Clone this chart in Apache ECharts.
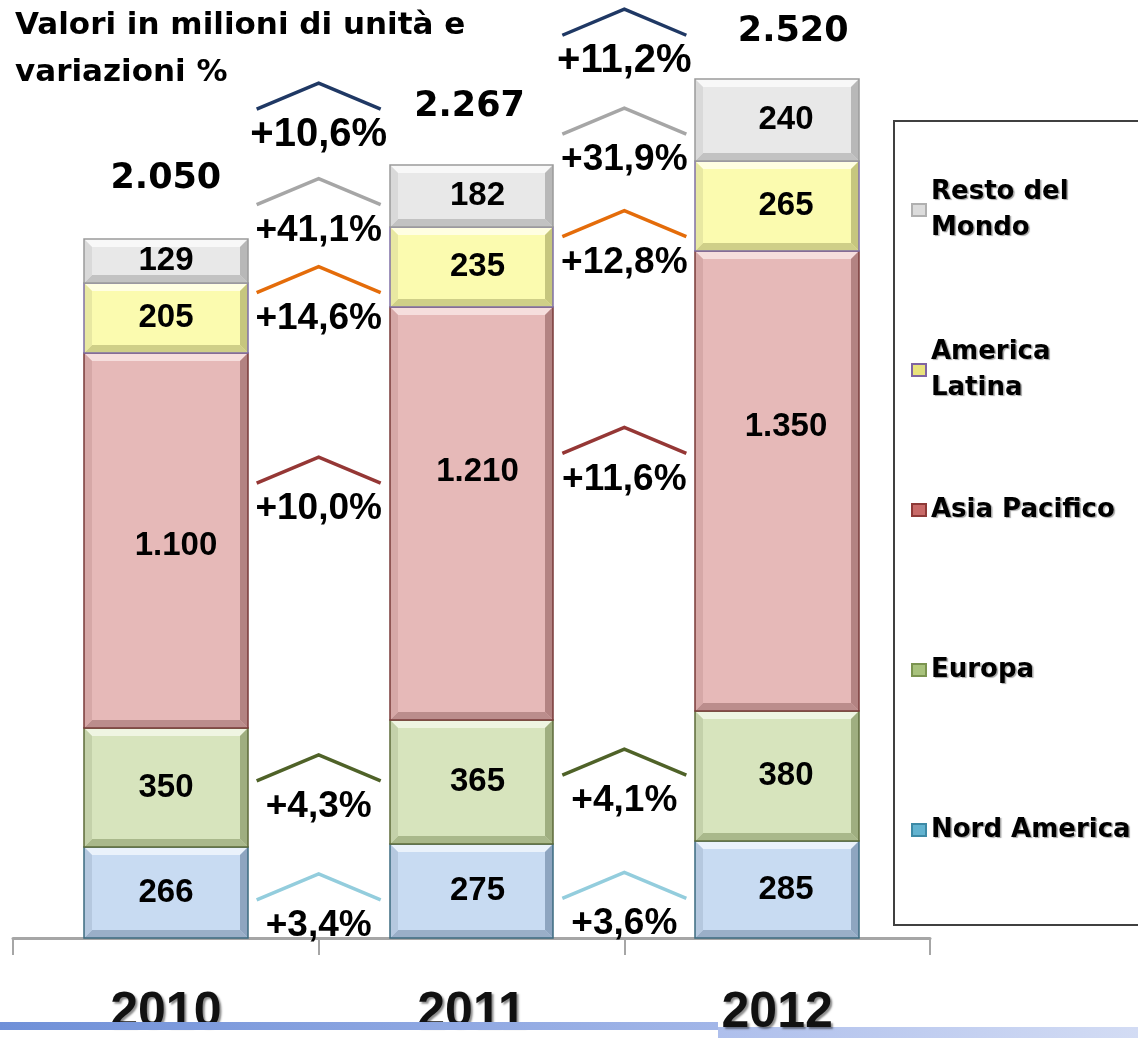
<!DOCTYPE html>
<html>
<head>
<meta charset="utf-8">
<title>Valori in milioni di unità e variazioni %</title>
<script src="https://cdn.jsdelivr.net/npm/echarts@6/dist/echarts.min.js"></script>
<style>
html, body { margin: 0; padding: 0; background: #fff; }
#chart { width: 1138px; height: 1038px; }
</style>
</head>
<body>
<div id="chart"></div>
<script>
/* anni */
var years = ['2010', '2011', '2012'];

/* valori in milioni di unità, per area (dal basso verso l'alto) */
var nordAmerica = [266, 275, 285];
var europa = [350, 365, 380];
var asiaPacifico = [1100, 1210, 1350];
var americaLatina = [205, 235, 265];
var restoMondo = [129, 182, 240];

/* variazioni % 2010->2011 e 2011->2012 */
var varNordAmerica = ['+3,4%', '+3,6%'];
var varEuropa = ['+4,3%', '+4,1%'];
var varAsiaPacifico = ['+10,0%', '+11,6%'];
var varAmericaLatina = ['+14,6%', '+12,8%'];
var varRestoMondo = ['+41,1%', '+31,9%'];
var varTotale = ['+10,6%', '+11,2%'];

/* stili */
var BAR_RATIO = 0.536;
var labelFont = 'bold 33px "Liberation Sans", Arial, sans-serif';
var growthFont = 'bold 37px "Liberation Sans", Arial, sans-serif';
var growthTotFont = 'bold 40px "Liberation Sans", Arial, sans-serif';
var totalFont = 'bold 35px "DejaVu Sans", sans-serif';
var labelDx = [0, 6, 9];
var totDx = [0, -2, 16];
var totDy = [-60, -58, -47];

var areas = [
    { name: 'Nord America', values: nordAmerica, growth: varNordAmerica, chevron: '#93cddd', nudge: 8,
      legend: { color: '#62b3d0', borderColor: '#3d8aa6' },
      colors: { face: '#c8dbf2', top: '#eaf2fb', left: '#b5c8df', right: '#8ea5c0', bottom: '#9aafc8', line: '#3d6b80' } },
    { name: 'Europa', values: europa, growth: varEuropa, chevron: '#4f6228', nudge: -4,
      legend: { color: '#a8c27c', borderColor: '#7b9450' },
      colors: { face: '#d7e4bd', top: '#eff5e2', left: '#c4d1aa', right: '#9fae80', bottom: '#a9b88b', line: '#5d6b3a' } },
    { name: 'Asia Pacifico', values: asiaPacifico, growth: varAsiaPacifico, chevron: '#953735', nudge: -44,
      labelShift: [[10, 5], [0, -42], [0, -54]],
      legend: { color: '#c86a68', borderColor: '#8e3a38' },
      colors: { face: '#e6b9b8', top: '#f6dedd', left: '#d6a8a7', right: '#b38382', bottom: '#bb8d8c', line: '#7a3b3a' } },
    { name: 'America\nLatina', values: americaLatina, growth: varAmericaLatina, chevron: '#e46c0a', nudge: 0,
      legend: { color: '#e9e27c', borderColor: '#8064a2' },
      colors: { face: '#fbfbaf', top: '#fffee2', left: '#e8e8a2', right: '#c6c67e', bottom: '#cfcf88', line: '#8070a6' } },
    { name: 'Resto del\nMondo', values: restoMondo, growth: varRestoMondo, chevron: '#a6a6a6', nudge: -24,
      legend: { color: '#dcdcdc', borderColor: '#b0b0b0' },
      colors: { face: '#e8e8e8', top: '#f8f8f8', left: '#d9d9d9', right: '#b8b8b8', bottom: '#c2c2c2', line: '#9a9a9a' } }
];

/* basi cumulative e totali */
var bases = years.map(function () { return 0; });
areas.forEach(function (a) {
    a.base = bases.slice();
    a.values.forEach(function (v, i) { bases[i] += v; });
});
var totals = bases.slice();

function fmt(v) {
    if (v < 1000) return String(v);
    var r = String(v % 1000);
    while (r.length < 3) r = '0' + r;
    return Math.floor(v / 1000) + '.' + r;
}

/* blocco con effetto smussato */
function blockRenderer(area) {
    return function (params, api) {
        var i = api.value(0);
        var lo = api.coord([i, api.value(1)]);
        var hi = api.coord([i, api.value(2)]);
        var w = api.size([1, 0])[0] * BAR_RATIO;
        var x0 = Math.round(lo[0] - w / 2), x1 = Math.round(lo[0] + w / 2);
        var y0 = Math.round(hi[1]), y1 = Math.round(lo[1]);
        var b = 8, c = area.colors;
        var sh = area.labelShift ? area.labelShift[i] : [0, 0];
        return {
            type: 'group',
            children: [
                { type: 'rect', shape: { x: x0, y: y0, width: x1 - x0, height: y1 - y0 }, style: { fill: c.face } },
                { type: 'polygon', shape: { points: [[x0, y0], [x1, y0], [x1 - b, y0 + b], [x0 + b, y0 + b]] }, style: { fill: c.top } },
                { type: 'polygon', shape: { points: [[x0, y1], [x1, y1], [x1 - b, y1 - b], [x0 + b, y1 - b]] }, style: { fill: c.bottom } },
                { type: 'polygon', shape: { points: [[x0, y0], [x0 + b, y0 + b], [x0 + b, y1 - b], [x0, y1]] }, style: { fill: c.left } },
                { type: 'polygon', shape: { points: [[x1, y0], [x1 - b, y0 + b], [x1 - b, y1 - b], [x1, y1]] }, style: { fill: c.right } },
                { type: 'rect', shape: { x: x0, y: y0, width: x1 - x0, height: y1 - y0 }, style: { fill: null, stroke: c.line, lineWidth: 1.5 } },
                { type: 'text', x: (x0 + x1) / 2 + labelDx[i] + sh[0], y: (y0 + y1) / 2 + sh[1],
                  style: { text: fmt(area.values[params.dataIndex]), font: labelFont, fill: '#000', align: 'center', verticalAlign: 'middle' } }
            ]
        };
    };
}

/* freccia di variazione fra due anni */
function chevronRenderer(labels, color, nudge, font) {
    return function (params, api) {
        var i = api.value(0), v = api.value(1);
        var a = api.coord([i, v]), c = api.coord([i + 1, v]);
        var cx = (a[0] + c[0]) / 2, cy = a[1] + nudge;
        return {
            type: 'group',
            children: [
                { type: 'polyline', shape: { points: [[cx - 62, cy], [cx, cy - 26], [cx + 62, cy]] },
                  style: { stroke: color, lineWidth: 3.5, fill: null } },
                { type: 'text', x: cx, y: cy + 26,
                  style: { text: labels[params.dataIndex], font: font, fill: '#000', align: 'center', verticalAlign: 'middle' } }
            ]
        };
    };
}

var series = [];
areas.forEach(function (a) {
    series.push({
        type: 'custom',
        name: a.name,
        clip: false,
        itemStyle: { color: a.legend.color, borderColor: a.legend.borderColor, borderWidth: 1 },
        encode: { x: 0, y: [1, 2] },
        data: years.map(function (y, i) { return [i, a.base[i], a.base[i] + a.values[i]]; }),
        renderItem: blockRenderer(a)
    });
});
areas.forEach(function (a) {
    /* ancoraggio: media dei centri dei due segmenti adiacenti */
    var mids = a.values.map(function (v, i) { return a.base[i] + v / 2; });
    series.push({
        type: 'custom',
        name: 'var ' + a.name,
        clip: false,
        silent: true,
        encode: { x: 0, y: 1 },
        data: a.growth.map(function (g, i) { return [i, (mids[i] + mids[i + 1]) / 2]; }),
        renderItem: chevronRenderer(a.growth, a.chevron, a.nudge, growthFont)
    });
});
/* variazione del totale: ancorata al totale dell'anno di partenza */
series.push({
    type: 'custom',
    name: 'var totale',
    clip: false,
    silent: true,
    encode: { x: 0, y: 1 },
    data: varTotale.map(function (g, i) { return [i, totals[i]]; }),
    renderItem: chevronRenderer(varTotale, '#1f3864', -130, growthTotFont)
});
series.push({
    type: 'custom',
    name: 'totale',
    clip: false,
    silent: true,
    encode: { x: 0, y: 1 },
    data: totals.map(function (t, i) { return [i, t]; }),
    renderItem: function (params, api) {
        var i = api.value(0);
        var p = api.coord([i, api.value(1)]);
        return { type: 'text', x: p[0] + totDx[i], y: p[1] + totDy[i],
                 style: { text: fmt(totals[i]), font: totalFont, fill: '#000', align: 'center', verticalAlign: 'middle' } };
    }
});

/* legenda: una voce per componente, dall'alto verso il basso */
var legendOrder = [4, 3, 2, 1, 0];
var legendTops = [174, 334, 492, 652, 812];
var legends = legendOrder.map(function (k, j) {
    var a = areas[k];
    return {
        data: [{ name: a.name, itemStyle: a.legend }],
        orient: 'vertical',
        left: 911,
        top: legendTops[j],
        padding: 0,
        icon: 'rect',
        itemWidth: 14,
        itemHeight: 12,
        selectedMode: false,
        textStyle: {
            fontFamily: '"DejaVu Sans", sans-serif',
            fontWeight: 'bold',
            fontSize: 26,
            lineHeight: 36,
            color: '#000',
            textShadowColor: 'rgba(0,0,0,0.35)',
            textShadowOffsetX: 1.5,
            textShadowOffsetY: 1.5,
            textShadowBlur: 1
        }
    };
});

var chart = echarts.init(document.getElementById('chart'));
var option = {
    animation: false,
    backgroundColor: '#fff',
    title: {
        text: 'Valori in milioni di unità e\nvariazioni %',
        left: 15,
        top: 2,
        padding: 0,
        textStyle: { fontFamily: '"DejaVu Sans", sans-serif', fontWeight: 'bold', fontSize: 31, lineHeight: 47, color: '#000' }
    },
    legend: legends,
    grid: { left: 13, right: 208, top: 79, bottom: 96 },
    xAxis: {
        type: 'category',
        data: years,
        axisLine: { lineStyle: { color: '#a6a6a6', width: 3 } },
        axisTick: { show: true, length: 17, lineStyle: { color: '#a6a6a6', width: 2 } },
        axisLabel: {
            margin: 50,
            fontFamily: '"Liberation Sans Narrow", "Liberation Sans", sans-serif',
            fontWeight: 'bold',
            fontSize: 50,
            color: '#111',
            textShadowColor: 'rgba(0,0,0,0.45)',
            textShadowOffsetX: 2,
            textShadowOffsetY: 2,
            textShadowBlur: 2
        }
    },
    yAxis: { type: 'value', min: 0, max: 2520, show: false, splitLine: { show: false } },
    graphic: [
        { type: 'rect', z: -10, shape: { x: 894, y: 121, width: 260, height: 804 },
          style: { fill: '#fff', stroke: '#404040', lineWidth: 2 } },
        { type: 'rect', z: -10, shape: { x: 718, y: 1027, width: 420, height: 11 },
          style: { fill: new echarts.graphic.LinearGradient(0, 0, 1, 0, [{ offset: 0, color: '#aebfec' }, { offset: 1, color: '#d3dcf4' }]) } },
        { type: 'rect', z: 100, shape: { x: 0, y: 1022, width: 718, height: 8 },
          style: { fill: new echarts.graphic.LinearGradient(0, 0, 1, 0, [{ offset: 0, color: '#6f90d8' }, { offset: 1, color: '#a2b6e8' }]) } }
    ],
    series: series
};
chart.setOption(option);
</script>
</body>
</html>
